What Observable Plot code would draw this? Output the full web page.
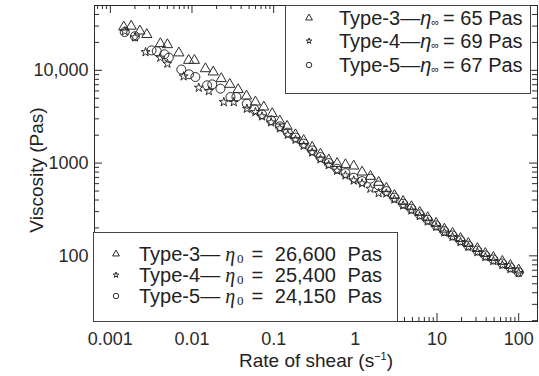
<!DOCTYPE html>
<html><head><meta charset="utf-8">
<script src="https://cdn.jsdelivr.net/npm/d3@7"></script>
<script src="https://cdn.jsdelivr.net/npm/@observablehq/plot@0.6"></script>
<style>
body{margin:0;background:#fff;}
#wrap{position:relative;width:539px;height:376px;font-family:"Liberation Sans",Arial,sans-serif;color:#222;overflow:hidden;}
#wrap svg{display:block;}
.leg{position:absolute;border:1px solid #444;background:#fff;box-sizing:border-box;}
.row{position:absolute;white-space:nowrap;font-size:20px;height:20px;line-height:20px;display:flex;align-items:center;}
.eta0{font-family:"Liberation Serif","Times New Roman",serif;font-style:italic;font-size:20px;line-height:20px;margin-left:5px;}
.etaI{font-style:italic;font-size:20px;}
.sub{font-size:11px;position:relative;top:4px;}
.sub0{font-family:"Liberation Serif",serif;font-size:13px;line-height:13px;position:relative;top:4px;margin-left:2px;}
.lbl{position:absolute;white-space:nowrap;font-size:19px;transform:translate(-50%,-50%);}
.lbl sup{font-size:11px;vertical-align:0;position:relative;top:-7px;}
</style></head>
<body><div id="wrap"></div>
<script>
// ---- data ----
const shear3 = [0.00146,0.0018,0.0023,0.0028,0.0041,0.005,0.0069,0.0091,0.0107,0.0146,0.0182,0.0228,0.029,0.0367,0.0465,0.0598,0.0757,0.096,0.119,0.146,0.185,0.233,0.296,0.374,0.472,0.598,0.757,0.955,1.21,1.53,1.93,2.40,3.01,3.85,4.86,6.14,7.69,9.75,12.3,15.5,19.4,24.2,31.2,39.1,49.0,63.1,79.1,100];
const visc3 = [29300,29900,26500,24300,19400,18900,15400,12800,12800,10400,9590,8130,7060,6190,5280,4550,4020,3410,2840,2490,2020,1750,1480,1250,1080,991,961,929,800,719,620,534,448,386,339,294,258,224,194,175,154,136,120,106,96.1,87.1,78.8,70.4];
const shear4 = [0.0015,0.002,0.0027,0.0041,0.005,0.0079,0.0121,0.0161,0.0245,0.0325,0.047,0.0598,0.072,0.093,0.119,0.149,0.185,0.233,0.296,0.374,0.472,0.598,0.757,0.955,1.21,1.53,1.93,2.40,3.01,3.85,4.86,6.14,7.69,9.75,12.3,15.5,19.4,24.2,31.2,39.1,49.0,63.1,79.1,100];
const visc4 = [26400,22700,15700,13700,11800,8610,6500,5980,4550,4550,3860,3550,3190,2750,2370,2020,1790,1540,1300,1100,951,828,736,650,604,530,475,471,406,350,309,269,235,205,179,160,141,125,110,97.2,88.1,79.8,72.3,65.5];
const shear5 = [0.0015,0.002,0.0032,0.0037,0.0046,0.0052,0.0074,0.0092,0.011,0.0153,0.0177,0.0223,0.0296,0.035,0.047,0.058,0.072,0.093,0.119,0.149,0.185,0.233,0.296,0.374,0.472,0.598,0.757,0.955,1.21,1.53,1.93,2.40,3.01,3.85,4.86,6.14,7.69,9.75,12.3,15.5,19.4,24.2,31.2,39.1,49.0,63.1,79.1,100];
const visc5 = [25900,23300,16400,16100,14900,13700,10200,9060,8470,6890,7060,6350,5160,5160,4370,3800,3350,2890,2490,2130,1880,1620,1370,1160,1000,871,780,696,639,679,574,499,424,365,322,280,245,213,185,166,147,129,114,101,91.4,82.8,75.0,66.7];

const seriesNames = ["Type-3","Type-4","Type-5"];
const etaInf = [65,69,67];
const eta0 = ["26,600","25,400","24,150"];

const xTicks = [0.001,0.01,0.1,1,10,100];
const xTickLabels = ["0.001","0.01","0.1","1","10","100"];
const yTicks = [100,1000,10000];
const yTickLabels = ["100","1000","10,000"];
const xDomain = [0.00064,170];
const yDomain = [19.6,50000];

// ---- layout ----
const W = 539, H = 376, mL = 94, mR = 2, mT = 5, mB = 55;
const FW = W - mL - mR, FH = H - mT - mB;
const ink = "#2a2a2a";

function minors(dom){
  const out = [];
  for (let e = -5; e <= 5; e++) for (let m = 2; m <= 9; m++) {
    const v = +(m * Math.pow(10, e)).toPrecision(6);
    if (v >= dom[0] && v <= dom[1]) out.push(v);
  }
  return out;
}
const xMinor = minors(xDomain), yMinor = minors(yDomain);

const toRows = (xs, ys) => xs.map((x, i) => ({x, y: ys[i]}));
const d3rows = toRows(shear3, visc3), d4rows = toRows(shear4, visc4), d5rows = toRows(shear5, visc5);

const chart = Plot.plot({
  width: W, height: H,
  marginLeft: mL, marginRight: mR, marginTop: mT, marginBottom: mB,
  x: {type: "log", domain: xDomain},
  y: {type: "log", domain: yDomain},
  style: {fontFamily: '"Liberation Sans", Arial, sans-serif', fontSize: "18px", color: ink, background: "white", overflow: "visible"},
  marks: [
    Plot.ruleX(xMinor, {insetTop: FH - 4, stroke: ink}),
    Plot.ruleX(xTicks, {insetTop: FH - 8, stroke: ink}),
    Plot.ruleX(xMinor, {insetBottom: FH - 4, stroke: ink}),
    Plot.ruleX(xTicks, {insetBottom: FH - 8, stroke: ink}),
    Plot.ruleY(yMinor, {insetRight: FW - 5, stroke: ink}),
    Plot.ruleY(yTicks, {insetRight: FW - 8, stroke: ink}),
    Plot.ruleY(yMinor, {insetLeft: FW - 5, stroke: ink}),
    Plot.ruleY(yTicks, {insetLeft: FW - 8, stroke: ink}),
    Plot.axisX(xTicks, {tickSize: 0, tickPadding: 11, label: null, fontSize: 18,
      tickFormat: d => xTickLabels[xTicks.indexOf(d)]}),
    Plot.axisY(yTicks, {tickSize: 0, tickPadding: 6, label: null, fontSize: 18,
      tickFormat: d => yTickLabels[yTicks.indexOf(d)]}),
    Plot.dot(d3rows, {x: "x", y: "y", symbol: "triangle", r: 3.8, stroke: ink, strokeWidth: 1, fill: "none"}),
    Plot.dot(d4rows, {x: "x", y: "y", symbol: "star", r: 2.8, stroke: ink, strokeWidth: 1, fill: "none"}),
    Plot.dot(d5rows, {x: "x", y: "y", symbol: "circle", r: 4.5, stroke: ink, strokeWidth: 1, fill: "none"}),
    Plot.frame({stroke: ink, strokeWidth: 1})
  ]
});
const wrap = document.getElementById("wrap");
wrap.appendChild(chart);

// ---- legends (overlaid inside the frame) ----
const symTypes = [d3.symbolTriangle, d3.symbolStar, d3.symbolCircle];
const symSizes = [20, 10, 24];
function icon(i){
  const p = d3.symbol(symTypes[i], symSizes[i])();
  return `<svg width="12" height="12" viewBox="-6 -6 12 12" style="overflow:visible"><path d="${p}" fill="none" stroke="${ink}" stroke-width="1"/></svg>`;
}
function box(left, top, w, h){
  const b = document.createElement("div");
  b.className = "leg";
  Object.assign(b.style, {left: left + "px", top: top + "px", width: w + "px", height: h + "px"});
  wrap.appendChild(b);
  return b;
}
// upper legend
const up = box(285, 5, 246, 89);
const upRows = [12, 35, 59];
seriesNames.forEach((n, i) => {
  const r = document.createElement("div");
  r.className = "row";
  r.style.left = "17px"; r.style.top = (upRows[i] - 10) + "px";
  r.innerHTML = `${icon(i)}<span style="display:inline-block;width:24px"></span>${n}—<span class="etaI">η</span><span class="sub">∞</span><span style="margin-left:4px">= ${etaInf[i]} Pas</span>`;
  up.appendChild(r);
});
// lower legend
const lo = box(93, 232, 305, 90);
const loRows = [21, 42, 63];
seriesNames.forEach((n, i) => {
  const r = document.createElement("div");
  r.className = "row";
  r.style.left = "16px"; r.style.top = (loRows[i] - 10) + "px";
  r.innerHTML = `${icon(i)}<span style="display:inline-block;width:17px"></span>${n}—<span class="eta0">η</span><span class="sub0">0</span><span style="margin-left:8px;word-spacing:6px">= ${eta0[i]} Pas</span>`;
  lo.appendChild(r);
});

// axis titles
const yl = document.createElement("div");
yl.className = "lbl";
Object.assign(yl.style, {left: "37px", top: "170px", transform: "translate(-50%,-50%) rotate(-90deg)"});
yl.textContent = "Viscosity (Pas)";
wrap.appendChild(yl);
const xl = document.createElement("div");
xl.className = "lbl";
Object.assign(xl.style, {left: "316px", top: "361px"});
xl.innerHTML = "Rate of shear (s<sup>−1</sup>)";
wrap.appendChild(xl);
</script>
</body></html>
